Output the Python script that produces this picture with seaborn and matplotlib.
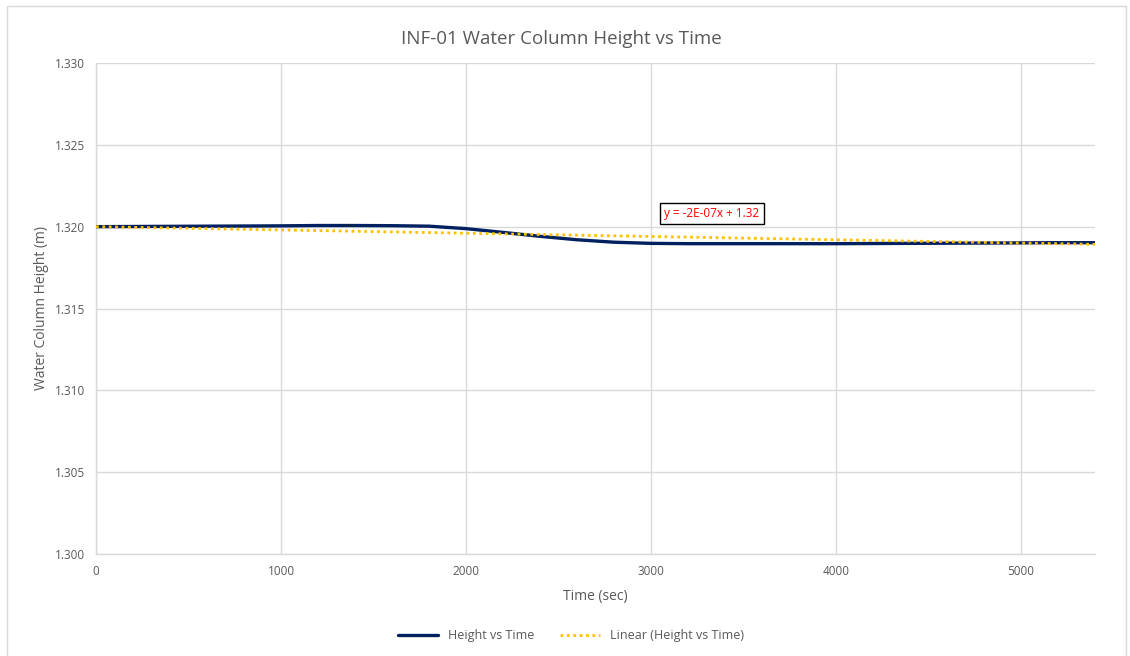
import numpy as np
import pandas as pd
import matplotlib
matplotlib.use("Agg")
import matplotlib.pyplot as plt
from matplotlib.patches import Rectangle
from matplotlib.ticker import FormatStrFormatter
import seaborn as sns

# Water column readings for INF-01
time_sec = [0, 200, 400, 600, 800, 1000, 1200, 1400, 1600, 1800, 2000, 2200,
            2400, 2600, 2800, 3000, 3200, 3400, 3600, 3800, 4000, 4200, 4400,
            4600, 4800, 5000, 5200, 5400]
height_m = [1.32000, 1.32001, 1.32002, 1.32003, 1.32004, 1.32005, 1.32007,
            1.32007, 1.32006, 1.32003, 1.31988, 1.31965, 1.31941, 1.31920,
            1.31905, 1.31898, 1.31896, 1.31896, 1.31896, 1.31896, 1.31896,
            1.31897, 1.31898, 1.31899, 1.31900, 1.31901, 1.31902, 1.31902]

# Linear trendline coefficients (as shown in the equation label)
trend_slope = -2e-07
trend_intercept = 1.32

x_ticks = [0, 1000, 2000, 3000, 4000, 5000]
y_ticks = [1.300, 1.305, 1.310, 1.315, 1.320, 1.325, 1.330]

df = pd.DataFrame({"Time (sec)": time_sec, "Height": height_m})
trend_x = np.array([0, 5400])
trend_df = pd.DataFrame({"Time (sec)": trend_x,
                         "Height": trend_slope * trend_x + trend_intercept})

sns.set_theme(style="white")
plt.rcParams["font.family"] = ["Open Sans", "DejaVu Sans"]

W, H = 1130, 656
fig = plt.figure(figsize=(W / 100, H / 100), dpi=100)
ax = fig.add_axes([96 / W, 1 - 554 / H, (1095 - 96) / W, (554 - 63) / H])

grey_text = "#595959"
grid_col = "#d9d9d9"

sns.lineplot(data=df, x="Time (sec)", y="Height", ax=ax, color="#002060",
             linewidth=2.4, label="Height vs Time", zorder=3)
sns.lineplot(data=trend_df, x="Time (sec)", y="Height", ax=ax, color="#FFC000",
             linewidth=2.0, linestyle=(0, (1, 1.3)),
             label="Linear (Height vs Time)", zorder=4)

ax.set_xlim(0, 5400)
ax.set_ylim(1.300, 1.330)
ax.set_xticks(x_ticks)
ax.set_yticks(y_ticks)
ax.yaxis.set_major_formatter(FormatStrFormatter("%.3f"))
ax.grid(True, color=grid_col, linewidth=1.0)
ax.set_axisbelow(True)
for side in ["top", "right"]:
    ax.spines[side].set_visible(False)
for side in ["left", "bottom"]:
    ax.spines[side].set_color(grid_col)
    ax.spines[side].set_linewidth(1.0)
ax.tick_params(axis="both", length=0, labelsize=8.5, labelcolor=grey_text, pad=8)

ax.set_xlabel("Time (sec)", fontsize=10, color=grey_text, labelpad=8)
ax.set_ylabel("Water Column Height (m)", fontsize=10, color=grey_text, labelpad=4)

# Title centred on the whole chart area
fig.text(561 / W, 1 - 39 / H, "INF-01 Water Column Height vs Time", fontsize=13.5,
         color=grey_text, ha="center", va="center")

eq_text = f"y = {trend_slope:.0E}x + {trend_intercept:g}"
ax.text(3330, 1.32081, eq_text, color="#FF0000", fontsize=8.5,
        ha="center", va="center", zorder=6,
        bbox=dict(boxstyle="square,pad=0.35", facecolor="white",
                  edgecolor="black", linewidth=1.0))

leg = ax.legend(loc="center", bbox_to_anchor=(571 / W, 1 - 636 / H), ncol=2,
                bbox_transform=fig.transFigure, frameon=False, fontsize=9,
                handlelength=3.2, columnspacing=2.0)
for t in leg.get_texts():
    t.set_color(grey_text)

# Chart-area border
fig.patches.append(Rectangle((7 / W, -0.01), (1126 - 7) / W, 1 - 6 / H + 0.01,
                             transform=fig.transFigure, fill=False,
                             edgecolor=grid_col, linewidth=1.0))

fig.savefig("out.png", dpi=100)
